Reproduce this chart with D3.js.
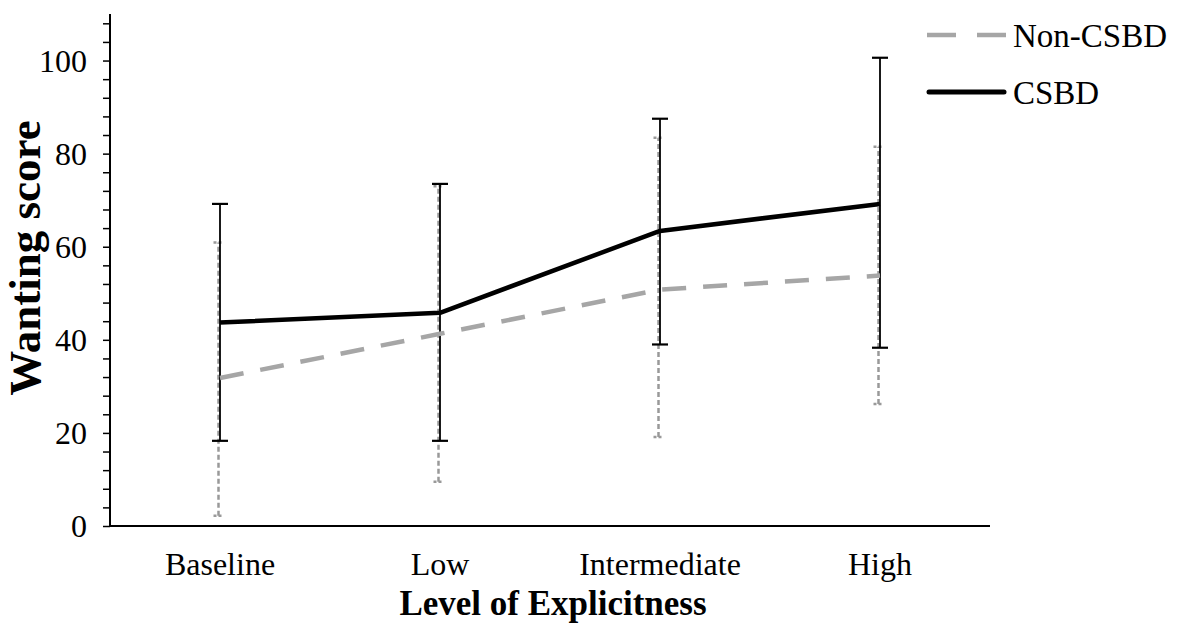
<!DOCTYPE html>
<html>
<head>
<meta charset="utf-8">
<script src="https://cdn.jsdelivr.net/npm/d3@7"></script>
<style>
  body { margin: 0; background: #fff; }
  svg { font-family: "Liberation Serif", "Times New Roman", serif; }
</style>
</head>
<body>
<svg width="1181" height="626"></svg>
<script>
// categories and series values
const levels = ["Baseline", "Low", "Intermediate", "High"];
const csbdMean = [43.7, 45.8, 63.4, 69.2];
const csbdUpper = [69.2, 73.5, 87.5, 100.6];
const csbdLower = [18.3, 18.3, 39.0, 38.3];
const nonMean = [31.8, 41.3, 50.8, 53.8];
const nonUpper = [60.9, 73.0, 83.4, 81.5];
const nonLower = [2.2, 9.5, 19.1, 26.2];
const yTickLabels = [0, 20, 40, 60, 80, 100];

const svg = d3.select("svg");
const plotLeft = 110, plotRight = 990, plotTop = 14, plotBottom = 526;

// scales
const x = d3.scaleBand().domain(levels).range([plotLeft, plotRight]);
const y = d3.scaleLinear().domain([0, 110]).range([plotBottom, plotTop]);
const cx = d => x(d) + x.bandwidth() / 2;

// y-axis, minor ticks every 4
const yAxis = svg.append("g")
  .attr("transform", `translate(${plotLeft},0)`)
  .call(d3.axisLeft(y).tickValues(d3.range(0, 109, 4)).tickSize(7).tickFormat(""));
yAxis.select(".domain").attr("stroke", "#000").attr("stroke-width", 2).attr("d", `M0,${plotBottom}V${plotTop}`);
yAxis.selectAll(".tick line").attr("stroke", "#000").attr("stroke-width", 1.5);

// y tick labels
svg.append("g").selectAll("text")
  .data(yTickLabels).enter().append("text")
  .attr("x", plotLeft - 23)
  .attr("y", d => y(d))
  .attr("dy", "0.35em")
  .attr("text-anchor", "end")
  .attr("font-size", "32px")
  .text(d => d);

// x-axis line
svg.append("line")
  .attr("x1", plotLeft).attr("x2", plotRight)
  .attr("y1", plotBottom).attr("y2", plotBottom)
  .attr("stroke", "#000").attr("stroke-width", 2);

// category labels
svg.append("g").selectAll("text")
  .data(levels).enter().append("text")
  .attr("x", d => cx(d))
  .attr("y", 575)
  .attr("text-anchor", "middle")
  .attr("font-size", "32px")
  .text(d => d);

// axis titles
svg.append("text")
  .attr("x", (plotLeft + plotRight) / 2 + 3)
  .attr("y", 615)
  .attr("text-anchor", "middle")
  .attr("font-size", "35px")
  .attr("font-weight", "bold")
  .text("Level of Explicitness");

svg.append("text")
  .attr("transform", "rotate(-90)")
  .attr("x", -258)
  .attr("y", 40)
  .attr("text-anchor", "middle")
  .attr("font-size", "45px")
  .attr("font-weight", "bold")
  .text("Wanting score");

// Non-CSBD error bars (gray, dashed)
const nonBars = svg.append("g");
levels.forEach((lv, i) => {
  const px = cx(lv) - 1.5;
  nonBars.append("line")
    .attr("x1", px).attr("x2", px)
    .attr("y1", y(nonLower[i])).attr("y2", y(nonUpper[i]))
    .attr("stroke", "#999").attr("stroke-width", 2.5)
    .attr("stroke-dasharray", "5,3");
  [nonLower[i], nonUpper[i]].forEach(v => {
    nonBars.append("line")
      .attr("x1", px - 5).attr("x2", px + 5)
      .attr("y1", y(v)).attr("y2", y(v))
      .attr("stroke", "#999").attr("stroke-width", 2.5)
      .attr("stroke-dasharray", "3,2");
  });
});

// CSBD error bars (black)
const csbdBars = svg.append("g");
levels.forEach((lv, i) => {
  const px = cx(lv);
  csbdBars.append("line")
    .attr("x1", px).attr("x2", px)
    .attr("y1", y(csbdLower[i])).attr("y2", y(csbdUpper[i]))
    .attr("stroke", "#000").attr("stroke-width", 1.8);
  [csbdLower[i], csbdUpper[i]].forEach(v => {
    csbdBars.append("line")
      .attr("x1", px - 8).attr("x2", px + 8)
      .attr("y1", y(v)).attr("y2", y(v))
      .attr("stroke", "#000").attr("stroke-width", 2.2);
  });
});

// lines
const line = d3.line()
  .x((d, i) => cx(levels[i]))
  .y(d => y(d));

svg.append("path")
  .attr("d", line(nonMean))
  .attr("fill", "none")
  .attr("stroke", "#a6a6a6")
  .attr("stroke-width", 4.5)
  .attr("stroke-dasharray", "24,17");

svg.append("path")
  .attr("d", line(csbdMean))
  .attr("fill", "none")
  .attr("stroke", "#000")
  .attr("stroke-width", 4.5)
  .attr("stroke-linejoin", "round");

// legend
const legend = svg.append("g");
legend.append("line")
  .attr("x1", 927).attr("x2", 1006)
  .attr("y1", 35).attr("y2", 35)
  .attr("stroke", "#a6a6a6").attr("stroke-width", 4.5)
  .attr("stroke-dasharray", "29,21");
legend.append("text")
  .attr("x", 1013).attr("y", 35).attr("dy", "0.35em")
  .attr("font-size", "33px")
  .text("Non-CSBD");
legend.append("line")
  .attr("x1", 929).attr("x2", 1004)
  .attr("y1", 92).attr("y2", 92)
  .attr("stroke", "#000").attr("stroke-width", 5)
  .attr("stroke-linecap", "round");
legend.append("text")
  .attr("x", 1013).attr("y", 92).attr("dy", "0.35em")
  .attr("font-size", "33px")
  .text("CSBD");
</script>
</body>
</html>
